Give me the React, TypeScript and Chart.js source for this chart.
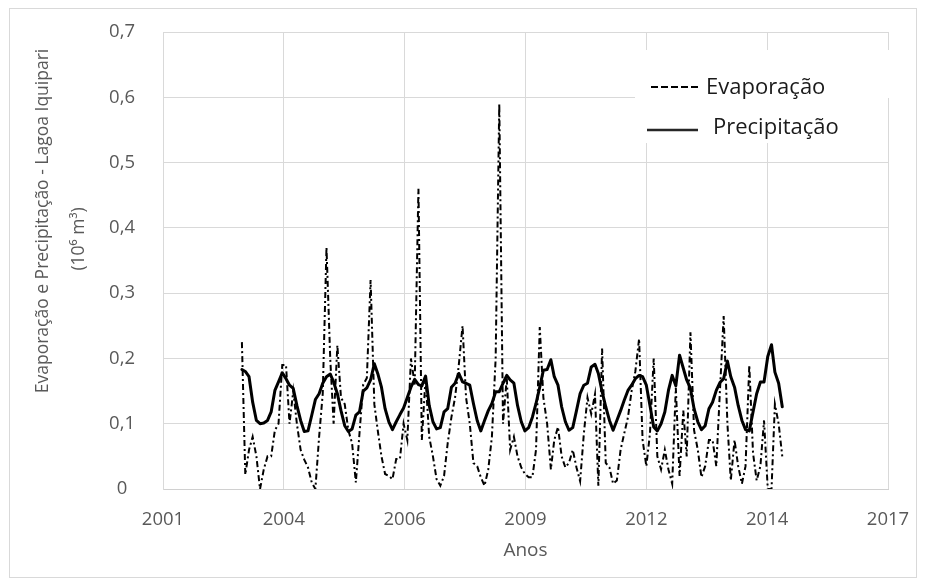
import React, { useEffect, useRef } from "react";
import { Chart, registerables } from "chart.js";

Chart.register(...registerables);

// ---- data (monthly, starting February 2003) ----
const START_YEAR = 2003;
const START_MONTH = 2;

const EVAPORACAO = [
  0.225, 0.022, 0.06, 0.08, 0.05, 0.0, 0.03, 0.05, 0.05, 0.09,
  0.1, 0.19, 0.19, 0.1, 0.15, 0.1, 0.06, 0.045, 0.033, 0.01,
  0.0, 0.08, 0.146, 0.37, 0.2, 0.1, 0.22, 0.14, 0.13, 0.09,
  0.07, 0.01, 0.085, 0.16, 0.17, 0.32, 0.13, 0.09, 0.05, 0.023,
  0.02, 0.015, 0.046, 0.046, 0.1, 0.075, 0.2, 0.16, 0.46, 0.075,
  0.17, 0.08, 0.05, 0.015, 0.005, 0.02, 0.07, 0.11, 0.14, 0.19,
  0.25, 0.14, 0.1, 0.04, 0.035, 0.018, 0.005, 0.03, 0.08, 0.2,
  0.59, 0.1, 0.17, 0.06, 0.08, 0.05, 0.033, 0.023, 0.018, 0.018,
  0.06, 0.248, 0.14, 0.1, 0.03, 0.075, 0.095, 0.05, 0.033, 0.04,
  0.06, 0.033, 0.012, 0.085, 0.14, 0.115, 0.145, 0.005, 0.215, 0.04,
  0.033, 0.008, 0.013, 0.06, 0.085, 0.11, 0.15, 0.18, 0.23, 0.075,
  0.035, 0.085, 0.2, 0.05, 0.03, 0.06, 0.03, 0.008, 0.155, 0.02,
  0.12, 0.05, 0.24, 0.09, 0.06, 0.018, 0.035, 0.075, 0.075, 0.035,
  0.15, 0.265, 0.1, 0.013, 0.075, 0.035, 0.008, 0.035, 0.19, 0.055,
  0.013, 0.035, 0.105, 0.0, 0.0, 0.13, 0.1, 0.05,
];

const PRECIPITACAO = [
  0.183, 0.18, 0.172, 0.133, 0.105, 0.1, 0.101, 0.105, 0.118, 0.151,
  0.164, 0.178, 0.169, 0.159, 0.154, 0.128, 0.105, 0.088, 0.089, 0.113,
  0.137, 0.146, 0.162, 0.172, 0.176, 0.164, 0.146, 0.12, 0.097, 0.088,
  0.092, 0.113, 0.118, 0.15, 0.155, 0.167, 0.192, 0.177, 0.156, 0.123,
  0.103, 0.091, 0.103, 0.114, 0.124, 0.14, 0.156, 0.168, 0.16, 0.158,
  0.173, 0.128, 0.103, 0.092, 0.094, 0.118, 0.123, 0.156, 0.162, 0.177,
  0.164, 0.162, 0.159, 0.131, 0.105, 0.089, 0.105, 0.12, 0.131, 0.149,
  0.149, 0.162, 0.174, 0.167, 0.162, 0.128, 0.103, 0.089, 0.094, 0.11,
  0.131, 0.156, 0.182, 0.183, 0.198, 0.172, 0.159, 0.126, 0.103, 0.09,
  0.094, 0.12, 0.146, 0.159, 0.162, 0.187, 0.191, 0.177, 0.149, 0.126,
  0.105, 0.09, 0.105, 0.12, 0.136, 0.151, 0.159, 0.169, 0.174, 0.172,
  0.159, 0.128, 0.095, 0.089, 0.1, 0.118, 0.151, 0.174, 0.158, 0.205,
  0.185, 0.167, 0.154, 0.123, 0.103, 0.091, 0.097, 0.123, 0.133, 0.151,
  0.163, 0.169, 0.196, 0.172, 0.156, 0.128, 0.105, 0.091, 0.089, 0.118,
  0.146, 0.164, 0.164, 0.203, 0.221, 0.179, 0.162, 0.126,
];

const MONTHS = PRECIPITACAO.map((_, i) => {
  const t = START_MONTH - 1 + i;
  return `${START_YEAR + Math.floor(t / 12)}-${String((t % 12) + 1).padStart(2, "0")}`;
});

const SERIES_NAMES = ["Evaporação", "Precipitação"];
const X_TICK_LABELS = ["2001", "2004", "2006", "2009", "2012", "2014", "2017"];
const Y_TICK_LABELS = ["0", "0,1", "0,2", "0,3", "0,4", "0,5", "0,6", "0,7"];
const Y_TITLE = ["Evaporação e Precipitação - Lagoa Iquipari", "(10⁶ m³)"];
const X_TITLE = "Anos";

// Excel-style date axis (serial day numbers)
const X_MIN = 37000;
const X_MAX = 43000;
const X_STEP = 1000;

function toSerial(label: string): number {
  const [y, m] = label.split("-").map(Number);
  return (Date.UTC(y, m - 1, 1) - Date.UTC(1899, 11, 30)) / 86400000;
}

const FONT = '"Open Sans", sans-serif';
const GRID = "#d9d9d9";
const TEXT = "#595959";
const CLEAR = "rgba(0,0,0,0)";

const decorPlugin = {
  id: "decor",
  afterDraw(chart: any) {
    const ctx = chart.ctx as CanvasRenderingContext2D;
    const area = chart.chartArea;
    ctx.save();
    // outer frame
    ctx.strokeStyle = GRID;
    ctx.lineWidth = 1;
    ctx.setLineDash([]);
    ctx.strokeRect(1.5, 0.5, chart.width - 3, chart.height - 2);

    // y-axis title (two lines)
    ctx.fillStyle = TEXT;
    ctx.textAlign = "center";
    ctx.textBaseline = "middle";
    ctx.font = `17.5px ${FONT}`;
    const yLines = [
      { t: Y_TITLE[0], x: 35, y: 213 },
      { t: Y_TITLE[1], x: 71, y: 231 },
    ];
    yLines.forEach((l) => {
      ctx.save();
      ctx.translate(l.x, l.y);
      ctx.rotate(-Math.PI / 2);
      ctx.fillText(l.t, 0, 0);
      ctx.restore();
    });

    // x-axis title
    ctx.font = `19px ${FONT}`;
    ctx.fillText(X_TITLE, (area.left + area.right) / 2, 543);

    // legend boxes
    ctx.fillStyle = "#ffffff";
    ctx.fillRect(627, 42, 257, 48);
    ctx.fillRect(632, 90, 235, 45);

    // legend samples
    ctx.strokeStyle = "#000000";
    ctx.lineWidth = 2;
    ctx.setLineDash([7, 3]);
    ctx.beginPath();
    ctx.moveTo(643, 79);
    ctx.lineTo(690, 79);
    ctx.stroke();
    ctx.setLineDash([]);
    ctx.strokeStyle = "#262626";
    ctx.lineWidth = 2.5;
    ctx.beginPath();
    ctx.moveTo(639, 122);
    ctx.lineTo(690, 122);
    ctx.stroke();

    ctx.fillStyle = "#1a1a1a";
    ctx.font = `22px ${FONT}`;
    ctx.textAlign = "left";
    ctx.textBaseline = "alphabetic";
    ctx.fillText(SERIES_NAMES[0], 698, 86);
    ctx.fillText(SERIES_NAMES[1], 705, 126);
    ctx.restore();
  },
};

export default function App() {
  const ref = useRef<HTMLCanvasElement>(null);

  useEffect(() => {
    const canvas = ref.current;
    if (!canvas) return;
    const xs = MONTHS.map(toSerial);
    const chart = new Chart(canvas, {
      type: "line",
      data: {
        datasets: [
          {
            label: SERIES_NAMES[0],
            data: EVAPORACAO.map((v, i) => ({ x: xs[i], y: v })),
            borderColor: "#000000",
            borderWidth: 2,
            borderDash: [6, 3, 2, 3],
            pointRadius: 0,
            tension: 0,
            fill: false,
            order: 1,
          },
          {
            label: SERIES_NAMES[1],
            data: PRECIPITACAO.map((v, i) => ({ x: xs[i], y: v })),
            borderColor: "#000000",
            borderWidth: 3,
            borderJoinStyle: "round",
            borderCapStyle: "round",
            pointRadius: 0,
            tension: 0,
            fill: false,
            order: 0,
          },
        ],
      },
      options: {
        animation: false,
        responsive: false,
        devicePixelRatio: 1,
        layout: { padding: { top: 24, right: 30, left: 0, bottom: 0 } },
        plugins: {
          legend: { display: false },
          tooltip: { enabled: false },
          title: { display: false },
        },
        scales: {
          x: {
            type: "linear",
            min: X_MIN,
            max: X_MAX,
            afterFit: (s: any) => {
              s.height = 90;
            },
            afterBuildTicks: (s: any) => {
              s.ticks = X_TICK_LABELS.map((_, i) => ({ value: X_MIN + i * X_STEP }));
            },
            ticks: {
              stepSize: X_STEP,
              autoSkip: false,
              maxRotation: 0,
              padding: 0,
              color: TEXT,
              font: { family: FONT, size: 18.5 },
              callback: (_v: any, i: number) => X_TICK_LABELS[i],
            },
            grid: {
              color: GRID,
              lineWidth: 1,
              drawTicks: true,
              tickLength: 20,
              tickColor: CLEAR,
            },
            border: { color: "#d0d0d0", width: 1 },
          },
          y: {
            type: "linear",
            min: 0,
            max: 0.7,
            afterFit: (s: any) => {
              s.width = 155;
            },
            afterBuildTicks: (s: any) => {
              s.ticks = Y_TICK_LABELS.map((_, i) => ({ value: i / 10 }));
            },
            ticks: {
              stepSize: 0.1,
              padding: 0,
              crossAlign: "center",
              color: TEXT,
              font: { family: FONT, size: 18.5 },
              callback: (_v: any, i: number) => Y_TICK_LABELS[i],
            },
            grid: {
              color: GRID,
              lineWidth: 1,
              drawTicks: true,
              tickLength: 28,
              tickColor: CLEAR,
            },
            border: { color: GRID, width: 1 },
          },
        },
      },
      plugins: [decorPlugin],
    } as any);
    return () => chart.destroy();
  }, []);

  return (
    <div style={{ width: 910, height: 571 }}>
      <canvas
        ref={ref}
        width={910}
        height={571}
        style={{ display: "block", width: 910, height: 571 }}
      />
    </div>
  );
}
